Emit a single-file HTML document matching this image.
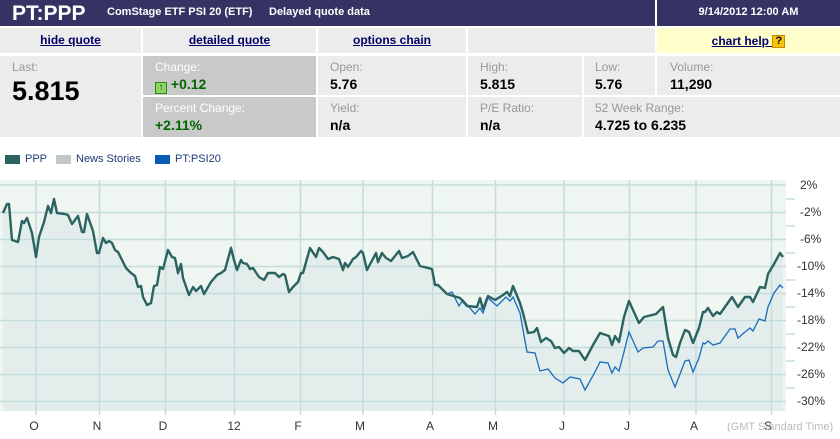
<!DOCTYPE html>
<html><head><meta charset="utf-8"><style>
*{margin:0;padding:0;box-sizing:border-box}
body{width:840px;height:439px;background:#fff;font-family:"Liberation Sans",Arial,sans-serif;position:relative;overflow:hidden}
.a{position:absolute}
.hd{background:#353363;color:#fff;font-weight:bold}
.c{background:#ececec}
.g{background:#c9c9c9}
.lk{color:#000066;text-decoration:underline;font-weight:bold;font-size:12px;text-align:center;line-height:24px}
.lb{font-size:12px;color:#999;position:absolute;left:12px;top:4px}
.lbw{color:#fff}
.v{font-size:14px;font-weight:bold;color:#000;position:absolute;left:12px;top:20px}
.gr{color:#006600}
</style></head><body>
<div class="a hd" style="left:0;top:0;width:655px;height:26px"></div>
<div class="a hd" style="left:657px;top:0;width:183px;height:26px"></div>
<div class="a" style="left:12px;top:2px;color:#fff;font-weight:bold;font-size:21px">PT:PPP</div>
<div class="a" style="left:107px;top:6px;color:#fff;font-weight:bold;font-size:11px">ComStage ETF PSI 20 (ETF)</div>
<div class="a" style="left:269px;top:6px;color:#fff;font-weight:bold;font-size:11px">Delayed quote data</div>
<div class="a" style="left:657px;top:6px;width:183px;text-align:center;color:#fff;font-weight:bold;font-size:11px">9/14/2012 12:00 AM</div>

<div class="a c lk" style="left:0;top:28px;width:141px;height:25px">hide quote</div>
<div class="a c lk" style="left:143px;top:28px;width:173px;height:25px">detailed quote</div>
<div class="a c lk" style="left:318px;top:28px;width:148px;height:25px">options chain</div>
<div class="a c" style="left:468px;top:28px;width:187px;height:25px"></div>
<div class="a lk" style="left:657px;top:28px;width:183px;height:25px;background:#ffffcc;line-height:26px">chart help <span style="display:inline-block;width:13px;height:13px;background:#f5c400;border:1px solid #c88a00;color:#000066;font-size:11px;line-height:11px;text-decoration:none;vertical-align:1px">?</span></div>

<div class="a c" style="left:0;top:56px;width:141px;height:81px"><div class="lb">Last:</div><div class="a" style="left:12px;top:20px;font-size:27px;font-weight:bold">5.815</div></div>
<div class="a g" style="left:143px;top:56px;width:173px;height:39px"><div class="lb lbw">Change:</div><div class="v gr" style="left:12px"><span style="display:inline-block;width:12px;height:12px;background:#8fd16a;border:1px solid #2e8b00;vertical-align:-1px;font-size:10px;line-height:10px;text-align:center;color:#060">↑</span> +0.12</div></div>
<div class="a g" style="left:143px;top:97px;width:173px;height:40px"><div class="lb lbw">Percent Change:</div><div class="v gr">+2.11%</div></div>
<div class="a c" style="left:318px;top:56px;width:148px;height:39px"><div class="lb">Open:</div><div class="v">5.76</div></div>
<div class="a c" style="left:318px;top:97px;width:148px;height:40px"><div class="lb">Yield:</div><div class="v">n/a</div></div>
<div class="a c" style="left:468px;top:56px;width:114px;height:39px"><div class="lb">High:</div><div class="v">5.815</div></div>
<div class="a c" style="left:584px;top:56px;width:71px;height:39px"><div class="lb" style="left:11px">Low:</div><div class="v" style="left:11px">5.76</div></div>
<div class="a c" style="left:657px;top:56px;width:183px;height:39px"><div class="lb" style="left:13px">Volume:</div><div class="v" style="left:13px">11,290</div></div>
<div class="a c" style="left:468px;top:97px;width:114px;height:40px"><div class="lb">P/E Ratio:</div><div class="v">n/a</div></div>
<div class="a c" style="left:584px;top:97px;width:256px;height:40px"><div class="lb" style="left:11px">52 Week Range:</div><div class="v" style="left:11px">4.725 to 6.235</div></div>

<div class="a" style="left:5px;top:155px;width:15px;height:9px;background:#2a6360"></div>
<div class="a" style="left:25px;top:153px;font-size:11px;color:#1f3a78">PPP</div>
<div class="a" style="left:56px;top:155px;width:15px;height:9px;background:#c0c8c8"></div>
<div class="a" style="left:76px;top:153px;font-size:11px;color:#1f3a78">News Stories</div>
<div class="a" style="left:155px;top:155px;width:15px;height:9px;background:#0a5bb5"></div>
<div class="a" style="left:175px;top:153px;font-size:11px;color:#1f3a78">PT:PSI20</div>

<svg class="a" style="left:0;top:0" width="840" height="439" xmlns="http://www.w3.org/2000/svg">
<rect x="0" y="180" width="786" height="231" fill="#eff5f1"/>
<path fill="#e3eeec" d="M3,213 7,204 9,204 12,240 18,242 22,221 24,223 27,218 32,233 36,257 39,237 44,222 48,206 51,213 54,199 57,213 65,214 68,215 72,224 78,216 82,232 84,232 87,214 93,231 97,253 99,253 103,238 106,243 109,241 112,243 115,250 118,252 122,260 126,268 131,273 135,276 138,287 141,286 143,297 147,305 151,303 154,286 157,285 160,267 163,269 168,250 172,257 175,258 178,273 181,264 183,278 189,295 193,287 196,291 201,286 204,294 211,282 217,275 221,273 225,270 231,248 234,260 237,270 241,260 243,263 247,264 250,269 253,268 259,277 264,280 268,273 275,273 279,277 283,274 285,275 289,292 293,287 298,282 301,273 303,273 310,248 316,257 319,248 323,252 328,259 333,257 339,259 343,270 345,263 348,267 353,259 356,257 361,251 363,253 367,270 376,253 378,262 382,253 386,258 391,261 395,256 399,251 402,258 408,256 413,252 420,266 432,269 435,285 438,285 447,294 460,298 467,306 477,307 480,298 483,309 488,296 495,300 503,295 507,292 510,296 513,286 520,303 523,313 528,333 534,332 537,328 541,342 546,338 551,341 555,348 559,347 564,353 569,348 573,351 579,351 585,360 593,345 600,333 609,336 612,345 615,336 619,342 624,317 629,301 633,310 639,323 644,317 648,316 656,314 663,307 668,338 673,355 676,357 680,343 685,330 689,332 693,343 699,328 703,312 705,312 708,308 713,316 717,312 720,314 732,297 738,307 745,297 750,297 753,302 760,287 765,288 768,274 774,264 780,253 783,257 783,411 3,411Z"/>
<g stroke="#c5dcdc" stroke-width="1.5" fill="none">
<path d="M0,185H786M0,212.5H786M0,239.5H786M0,266.5H786M0,293.5H786M0,320.5H786M0,347.5H786M0,374.5H786M0,401.5H786"/>
<path d="M36,180V415M99.5,180V415M165.5,180V415M234.5,180V415M300.5,180V415M363,180V415M432.5,180V415M495.5,180V415M564,180V415M629.5,180V415M696,180V415M771.5,180V415"/>
<path d="M786,199H795M786,226H795M786,253H795M786,280H795M786,307H795M786,334H795M786,361H795M786,388H795"/>
</g>
<path fill="none" stroke="#1a6bc0" stroke-width="1.3" d="M3,213 7,204 9,204 12,240 18,242 22,221 24,223 27,218 32,233 36,257 39,237 44,222 48,206 51,213 54,199 57,213 65,214 68,215 72,224 78,216 82,232 84,232 87,214 93,231 97,253 99,253 103,238 106,243 109,241 112,243 115,250 118,252 122,260 126,268 131,273 135,276 138,287 141,286 143,297 147,305 151,303 154,286 157,285 160,267 163,269 168,250 172,257 175,258 178,273 181,264 183,278 189,295 193,287 196,291 201,286 204,294 211,282 217,275 221,273 225,270 231,248 234,260 237,270 241,260 243,263 247,264 250,269 253,268 259,277 264,280 268,273 275,273 279,277 283,274 285,275 289,292 293,287 298,282 301,273 303,273 310,248 316,257 319,248 323,252 328,259 333,257 339,259 343,270 345,263 348,267 353,259 356,257 361,251 363,253 367,270 376,253 378,262 382,253 386,258 391,261 395,256 399,251 402,258 408,256 413,252 420,266 432,269 435,285 438,285 447,294 452,292 459,306 463,300 475,314 480,308 483,313 488,298 497,306 506,297 510,301 513,297 520,313 527,352 535,353 540,371 548,369 555,378 563,383 570,377 580,379 585,390 595,372 600,362 608,363 612,373 615,367 619,371 624,352 629,332 634,343 638,352 643,348 653,347 658,341 663,341 668,370 675,387 680,374 685,361 689,360 693,372 699,358 703,343 705,344 708,341 713,345 720,343 730,329 735,329 738,338 745,332 750,328 753,331 759,319 765,321 768,307 774,293 780,285 783,288"/>
<path fill="none" stroke="#2a6360" stroke-width="2.4" stroke-linejoin="round" d="M3,213 7,204 9,204 12,240 18,242 22,221 24,223 27,218 32,233 36,257 39,237 44,222 48,206 51,213 54,199 57,213 65,214 68,215 72,224 78,216 82,232 84,232 87,214 93,231 97,253 99,253 103,238 106,243 109,241 112,243 115,250 118,252 122,260 126,268 131,273 135,276 138,287 141,286 143,297 147,305 151,303 154,286 157,285 160,267 163,269 168,250 172,257 175,258 178,273 181,264 183,278 189,295 193,287 196,291 201,286 204,294 211,282 217,275 221,273 225,270 231,248 234,260 237,270 241,260 243,263 247,264 250,269 253,268 259,277 264,280 268,273 275,273 279,277 283,274 285,275 289,292 293,287 298,282 301,273 303,273 310,248 316,257 319,248 323,252 328,259 333,257 339,259 343,270 345,263 348,267 353,259 356,257 361,251 363,253 367,270 376,253 378,262 382,253 386,258 391,261 395,256 399,251 402,258 408,256 413,252 420,266 432,269 435,285 438,285 447,294 460,298 467,306 477,307 480,298 483,309 488,296 495,300 503,295 507,292 510,296 513,286 520,303 523,313 528,333 534,332 537,328 541,342 546,338 551,341 555,348 559,347 564,353 569,348 573,351 579,351 585,360 593,345 600,333 609,336 612,345 615,336 619,342 624,317 629,301 633,310 639,323 644,317 648,316 656,314 663,307 668,338 673,355 676,357 680,343 685,330 689,332 693,343 699,328 703,312 705,312 708,308 713,316 717,312 720,314 732,297 738,307 745,297 750,297 753,302 760,287 765,288 768,274 774,264 780,253 783,257"/>
<g font-family="Liberation Sans, Arial, sans-serif" font-size="12" fill="#333">
<text x="800" y="189">2%</text><text x="800" y="216">-2%</text><text x="800" y="243">-6%</text><text x="797" y="270">-10%</text><text x="797" y="297">-14%</text><text x="797" y="324">-18%</text><text x="797" y="351">-22%</text><text x="797" y="378">-26%</text><text x="797" y="405">-30%</text>
<g text-anchor="middle"><text x="34" y="430">O</text><text x="97" y="430">N</text><text x="163" y="430">D</text><text x="234" y="430">12</text><text x="298" y="430">F</text><text x="360" y="430">M</text><text x="430" y="430">A</text><text x="493" y="430">M</text><text x="562" y="430">J</text><text x="627" y="430">J</text><text x="694" y="430">A</text><text x="768" y="430">S</text></g>
<text x="727" y="430" font-size="11" fill="#bbb">(GMT Standard Time)</text>
</g>
</svg>
</body></html>
